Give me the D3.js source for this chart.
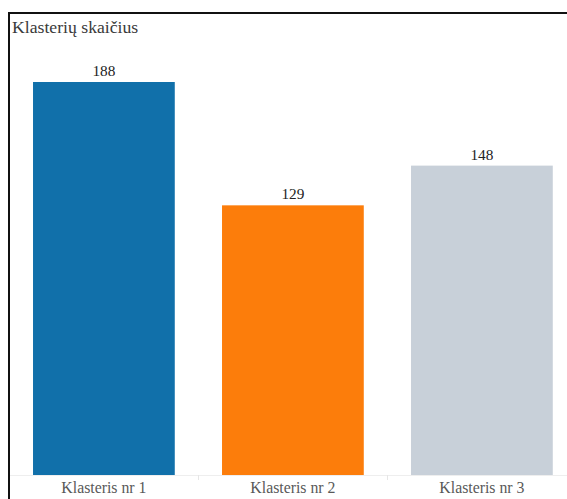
<!DOCTYPE html>
<html>
<head>
<meta charset="utf-8">
<script src="https://cdn.jsdelivr.net/npm/d3@7"></script>
<style>
  html, body { margin: 0; padding: 0; background: #fff; overflow: hidden; }
  svg { display: block; }
  svg text { font-family: "Liberation Serif", "Times New Roman", serif; }
</style>
</head>
<body>
<svg id="chart" width="567" height="499"></svg>
<script>
// Cluster sizes
const categories = ["Klasteris nr 1", "Klasteris nr 2", "Klasteris nr 3"];
const counts = [188, 129, 148];
const colors = ["#1170aa", "#fc7d0b", "#c8d0d9"];
const title = "Klasterių skaičius";

const svg = d3.select("#chart");

// Panel frame (top and left edges visible)
svg.append("path")
  .attr("d", "M9,500 V13 H570")
  .attr("fill", "none")
  .attr("stroke", "#111")
  .attr("stroke-width", 2);

svg.append("text")
  .attr("x", 12)
  .attr("y", 33)
  .attr("font-size", 17.7)
  .attr("fill", "#3a3a3a")
  .text(title);

const x = d3.scaleBand()
  .domain(categories)
  .range([9.4, 576.4])
  .paddingInner(0.25)
  .paddingOuter(0.125);

const y = d3.scaleLinear()
  .domain([0, 188])
  .range([475, 82]);

const data = categories.map((c, i) => ({ cat: c, value: counts[i], color: colors[i] }));

// Baseline and category separators
svg.append("line")
  .attr("x1", 10).attr("x2", 567)
  .attr("y1", 475.5).attr("y2", 475.5)
  .attr("stroke", "#eeeeee");

const seps = categories.slice(1).map(c => x(c) - x.step() * x.paddingInner() / 2);
svg.selectAll("line.sep")
  .data(seps)
  .enter().append("line")
  .attr("class", "sep")
  .attr("x1", d => Math.round(d) + 0.5).attr("x2", d => Math.round(d) + 0.5)
  .attr("y1", 475).attr("y2", 480)
  .attr("stroke", "#e6e6e6");

svg.selectAll("rect.bar")
  .data(data)
  .enter().append("rect")
  .attr("class", "bar")
  .attr("x", d => x(d.cat))
  .attr("width", x.bandwidth())
  .attr("y", d => y(d.value))
  .attr("height", d => y(0) - y(d.value))
  .attr("fill", d => d.color);

svg.selectAll("text.val")
  .data(data)
  .enter().append("text")
  .attr("class", "val")
  .attr("x", d => x(d.cat) + x.bandwidth() / 2)
  .attr("y", d => y(d.value) - 6)
  .attr("text-anchor", "middle")
  .attr("font-size", 15.3)
  .attr("fill", "#222")
  .text(d => d.value);

svg.selectAll("text.cat")
  .data(data)
  .enter().append("text")
  .attr("class", "cat")
  .attr("x", d => x(d.cat) + x.bandwidth() / 2)
  .attr("y", 492.5)
  .attr("text-anchor", "middle")
  .attr("font-size", 15.8)
  .attr("fill", "#595959")
  .text(d => d.cat);
</script>
</body>
</html>
